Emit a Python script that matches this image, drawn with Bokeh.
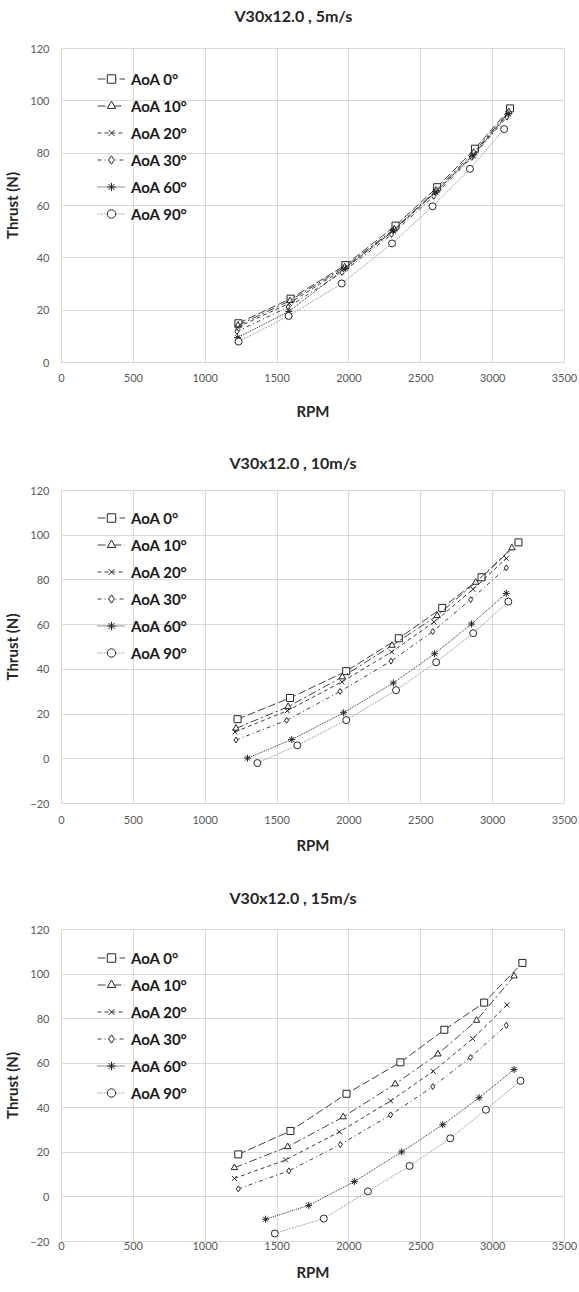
from bokeh.plotting import figure
from bokeh.layouts import column
from bokeh.models import Range1d, Legend, LegendItem, Title
from bokeh.embed import file_html
from bokeh.resources import INLINE

# ---------------- data ----------------
labels = ["AoA 0°", "AoA 10°", "AoA 20°", "AoA 30°", "AoA 60°", "AoA 90°"]
x_ticks = [0, 500, 1000, 1500, 2000, 2500, 3000, 3500]

titles = ["V30x12.0 , 5m/s", "V30x12.0 , 10m/s", "V30x12.0 , 15m/s"]
y_mins = [0, -20, -20]

# 5 m/s
v5_rpm_0 = [1231, 1594, 1975, 2324, 2614, 2877, 3121]
v5_thr_0 = [15.0, 24.4, 37.2, 52.3, 67.0, 81.7, 97.1]
v5_rpm_10 = [1228, 1590, 1970, 2315, 2607, 2868, 3112]
v5_thr_10 = [14.2, 23.6, 36.5, 51.0, 65.8, 80.3, 95.8]
v5_rpm_20 = [1225, 1585, 1965, 2308, 2600, 2862, 3108]
v5_thr_20 = [13.5, 22.6, 35.8, 50.2, 65.0, 79.3, 95.2]
v5_rpm_30 = [1220, 1578, 1952, 2296, 2590, 2855, 3100]
v5_thr_30 = [11.8, 21.2, 34.4, 48.9, 63.5, 78.4, 93.8]
v5_rpm_60 = [1225, 1582, 1975, 2310, 2605, 2862, 3108]
v5_thr_60 = [9.5, 19.5, 36.0, 50.5, 65.2, 79.0, 95.0]
v5_rpm_90 = [1232, 1580, 1950, 2300, 2582, 2842, 3080]
v5_thr_90 = [8.0, 17.8, 30.2, 45.5, 59.7, 74.0, 89.2]

# 10 m/s
v10_rpm_0 = [1225, 1590, 1981, 2347, 2649, 2923, 3180]
v10_thr_0 = [17.7, 27.2, 39.2, 53.9, 67.5, 81.2, 96.8]
v10_rpm_10 = [1214, 1577, 1954, 2300, 2614, 2882, 3134]
v10_thr_10 = [13.6, 23.3, 36.6, 50.7, 64.0, 78.9, 94.3]
v10_rpm_20 = [1207, 1571, 1951, 2297, 2593, 2863, 3095]
v10_thr_20 = [12.0, 21.5, 34.4, 47.8, 61.2, 75.8, 89.6]
v10_rpm_30 = [1214, 1566, 1938, 2293, 2583, 2847, 3095]
v10_thr_30 = [8.4, 17.2, 30.1, 43.7, 56.9, 71.2, 85.4]
v10_rpm_60 = [1294, 1602, 1963, 2309, 2596, 2853, 3095]
v10_thr_60 = [0.3, 8.6, 20.6, 33.9, 47.0, 60.3, 74.0]
v10_rpm_90 = [1363, 1641, 1981, 2328, 2607, 2865, 3109]
v10_thr_90 = [-1.9, 6.0, 17.3, 30.7, 43.2, 56.2, 70.3]

# 15 m/s
v15_rpm_0 = [1230, 1593, 1983, 2358, 2664, 2941, 3207]
v15_thr_0 = [19.1, 29.6, 46.3, 60.4, 75.0, 87.2, 105.0]
v15_rpm_10 = [1203, 1574, 1960, 2322, 2619, 2888, 3149]
v15_thr_10 = [13.1, 22.5, 35.9, 50.7, 64.1, 79.2, 99.1]
v15_rpm_20 = [1203, 1559, 1934, 2290, 2587, 2861, 3100]
v15_thr_20 = [8.3, 16.6, 29.2, 43.1, 56.4, 71.0, 86.2]
v15_rpm_30 = [1230, 1582, 1940, 2290, 2583, 2846, 3095]
v15_thr_30 = [3.6, 11.7, 23.5, 36.8, 49.5, 62.6, 77.0]
v15_rpm_60 = [1420, 1720, 2038, 2367, 2653, 2906, 3149]
v15_thr_60 = [-10.0, -3.8, 6.9, 20.2, 32.4, 44.5, 57.2]
v15_rpm_90 = [1484, 1825, 2132, 2422, 2705, 2953, 3194]
v15_thr_90 = [-16.4, -9.7, 2.5, 13.9, 26.3, 39.1, 52.1]

charts = [
    [(v5_rpm_0, v5_thr_0), (v5_rpm_10, v5_thr_10), (v5_rpm_20, v5_thr_20),
     (v5_rpm_30, v5_thr_30), (v5_rpm_60, v5_thr_60), (v5_rpm_90, v5_thr_90)],
    [(v10_rpm_0, v10_thr_0), (v10_rpm_10, v10_thr_10), (v10_rpm_20, v10_thr_20),
     (v10_rpm_30, v10_thr_30), (v10_rpm_60, v10_thr_60), (v10_rpm_90, v10_thr_90)],
    [(v15_rpm_0, v15_thr_0), (v15_rpm_10, v15_thr_10), (v15_rpm_20, v15_thr_20),
     (v15_rpm_30, v15_thr_30), (v15_rpm_60, v15_thr_60), (v15_rpm_90, v15_thr_90)],
]

# ---------------- styles ----------------
FONT = "Lato"
markers = ["square", "triangle", "x", "diamond", "asterisk", "circle"]
marker_sizes = [7, 6.5, 7, 6, 7, 7]
dashes = ["8 3", "8 3 2 3", "4 3", "4 3 1 3", "1 1", "2 1"]
line_colors = ["#404040", "#404040", "#404040", "#404040", "#262626", "#a6a6a6"]
GRID = "#d9d9d9"

# per-figure layout:
# (top border, frame height, bottom border, tick standoff, RPM standoff, title offset, title gap)
layouts = [(48, 314, 85, 11, 17, 173, 18),
           (40, 316, 79, 12, 9, 168, 13),
           (45, 314, 45, 0, 10, 168, 17)]


def make_fig(idx):
    top, fh, bottom, tick_so, rpm_so, t_off, t_gap = layouts[idx]
    ymin = y_mins[idx]
    p = figure(width=579, height=top + fh + bottom,
               x_range=Range1d(0, 3500), y_range=Range1d(ymin, 120),
               output_backend="svg", toolbar_location=None,
               min_border_left=61, min_border_right=15,
               min_border_top=top, min_border_bottom=bottom,
               background_fill_color="white", border_fill_color="white")
    p.title.text = titles[idx]
    p.title.align = "left"
    p.title.offset = t_off
    p.title.standoff = 6
    p.title.vertical_align = "bottom"
    p.title.text_font = FONT
    p.title.text_font_size = "16px"
    p.title.text_font_style = "bold"
    p.title.text_color = "#262626"
    # blank spacer between the title and the plot area
    p.add_layout(Title(text=" ", text_font_size="1px", standoff=t_gap), "above")

    p.outline_line_color = GRID
    p.xaxis.ticker = x_ticks
    p.yaxis.ticker = list(range(ymin, 121, 20))
    p.xgrid.grid_line_color = GRID
    p.ygrid.grid_line_color = GRID

    for ax in (p.xaxis[0], p.yaxis[0]):
        ax.axis_line_color = GRID
        ax.major_tick_line_color = None
        ax.minor_tick_line_color = None
        ax.major_tick_out = 0
        ax.major_tick_in = 0
        ax.minor_tick_out = 0
        ax.minor_tick_in = 0
        ax.major_label_text_font = FONT
        ax.major_label_text_font_size = "11px"
        ax.major_label_text_color = "#595959"
        ax.axis_label_text_font = FONT
        ax.axis_label_text_font_size = "15px"
        ax.axis_label_text_font_style = "bold"
        ax.axis_label_text_color = "#262626"
    p.xaxis.axis_label = "RPM"
    p.yaxis.axis_label = "Thrust (N)"
    p.xaxis.major_label_standoff = tick_so
    p.yaxis.major_label_standoff = 12
    p.xaxis.axis_label_standoff = rpm_so
    p.yaxis.axis_label_standoff = 6

    items = []
    for s, (xs, ys) in enumerate(charts[idx]):
        lr = p.line(xs, ys, line_color=line_colors[s], line_width=1,
                    line_dash=dashes[s])
        sr = p.scatter(xs, ys, marker=markers[s], size=marker_sizes[s],
                       line_color="#262626", fill_color="white", line_width=1)
        items.append(LegendItem(label=labels[s], renderers=[lr, sr]))

    leg_h = 6 * 21 + 5 * 6
    legend = Legend(items=items, location=(36, fh - 20 - leg_h), margin=0,
                    padding=0, spacing=6, glyph_width=28, glyph_height=21,
                    label_height=21, label_standoff=6,
                    border_line_color=None, background_fill_alpha=0,
                    label_text_font=FONT, label_text_font_size="15px",
                    label_text_font_style="bold", label_text_color="#1a1a1a")
    p.add_layout(legend)
    return p


figs = [make_fig(i) for i in range(3)]
layout = column(*figs, spacing=0)
open("out.html", "w").write(file_html(layout, INLINE))
